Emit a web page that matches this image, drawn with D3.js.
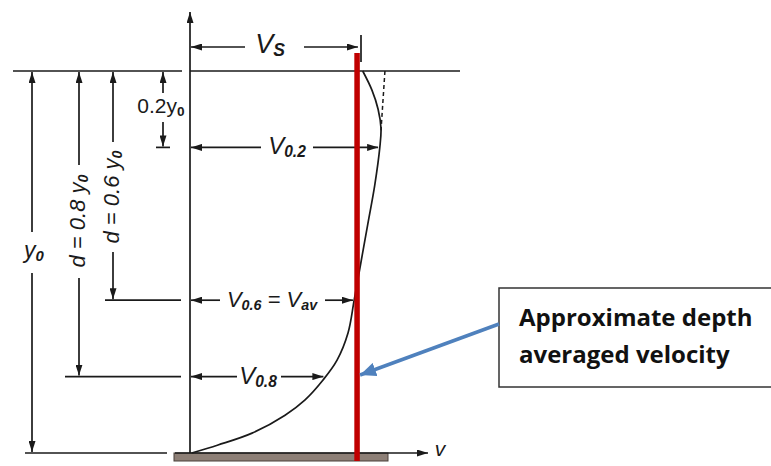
<!DOCTYPE html>
<html>
<head>
<meta charset="utf-8">
<script src="https://cdn.jsdelivr.net/npm/d3@7"></script>
<style>
  body { margin: 0; background: #fff; }
  svg { display: block; }
</style>
</head>
<body>
<svg id="chart" width="771" height="466" viewBox="0 0 771 466"></svg>
<script>
// velocity profile, depth as fraction of y0 (0 = surface), velocity as fraction of Vs
const depth = [0, 0.05, 0.1, 0.15, 0.2, 0.3, 0.4, 0.5, 0.6, 0.686, 0.757, 0.809, 0.861, 0.901, 0.948, 0.979, 1.0];
const vel   = [1.01, 1.064, 1.1, 1.117, 1.11, 1.08, 1.04, 1.0, 0.96, 0.924, 0.86, 0.778, 0.673, 0.556, 0.363, 0.164, 0.01];
const dashDepth = [0, 0.155];
const dashVel = [1.14, 1.117];
const levels = [0.2, 0.6, 0.8];
const levelVel = [1.1, 0.953, 0.78];
const vAvgApprox = 0.977;
const noteLines = ["Approximate depth", "averaged velocity"];

const svg = d3.select("#chart");
const x = d3.scaleLinear().domain([0, 1]).range([190, 361]);
const y = d3.scaleLinear().domain([0, 1]).range([71, 453]);
const ink = "#1a1a1a";
const font = "Liberation Sans, Arial, sans-serif";

// arrowhead markers
const defs = svg.append("defs");
function marker(id, color, w, h) {
    defs.append("marker").attr("id", id)
        .attr("viewBox", `0 0 ${w} ${h}`).attr("refX", w).attr("refY", h / 2)
        .attr("markerWidth", w).attr("markerHeight", h)
        .attr("markerUnits", "userSpaceOnUse").attr("orient", "auto-start-reverse")
        .append("path").attr("d", `M0,0L${w},${h / 2}L0,${h}Z`).attr("fill", color);
}
marker("ah", ink, 11, 7);
marker("blue", "#4f81bd", 16, 14);

function seg(x1, y1, x2, y2, start, end) {
    const l = svg.append("line").attr("x1", x1).attr("y1", y1).attr("x2", x2).attr("y2", y2)
        .attr("stroke", ink).attr("stroke-width", 1.7);
    if (start) l.attr("marker-start", "url(#ah)");
    if (end) l.attr("marker-end", "url(#ah)");
    return l;
}
function label(tx, ty, main, sub, size, extra) {
    const t = svg.append("text").attr("x", tx).attr("y", ty)
        .attr("font-family", font).attr("font-style", "italic")
        .attr("font-size", size).attr("fill", ink).attr("text-anchor", "middle")
        .attr("dominant-baseline", "middle");
    t.append("tspan").text(main);
    if (sub) t.append("tspan").attr("dy", 5).attr("font-size", size * 0.65).attr("font-weight", "bold").text(sub);
    if (extra) { t.append("tspan").attr("dy", -5).text(extra[0]);
                 t.append("tspan").attr("dy", 5).attr("font-size", size * 0.65).attr("font-weight", "bold").text(extra[1]); }
    return t;
}

// bed
svg.append("rect").attr("x", 174).attr("y", 453).attr("width", 214).attr("height", 8)
    .attr("fill", "#8d7f76").attr("stroke", "#4a403a").attr("stroke-width", 1);

// axes
seg(x(0), y(1), x(0), 12, false, true);
seg(x(0) - 15, y(1), 428, y(1), false, true);
svg.append("text").attr("x", 440).attr("y", y(1) - 3).attr("font-family", font)
    .attr("font-style", "italic").attr("font-size", 21).attr("fill", ink)
    .attr("text-anchor", "middle").attr("dominant-baseline", "middle").text("v");

// water surface
seg(13, y(0), 182, y(0));
seg(x(0), y(0), 460, y(0));
seg(25, y(1), 167, y(1));

// velocity profile
svg.append("path")
    .attr("d", d3.line().x(i => x(vel[i])).y(i => y(depth[i])).curve(d3.curveCatmullRom.alpha(0.5))(d3.range(depth.length)))
    .attr("fill", "none").attr("stroke", ink).attr("stroke-width", 1.7);
svg.append("path")
    .attr("d", d3.line().x(i => x(dashVel[i])).y(i => y(dashDepth[i]))(d3.range(dashDepth.length)))
    .attr("fill", "none").attr("stroke", ink).attr("stroke-width", 1.5).attr("stroke-dasharray", "4,3");

// Vs dimension
seg(x(0) + 1, 47, 245, 47, true);
seg(304, 47, x(0.982), 47, false, true);
seg(x(1), 35, x(1), 62);
label(270, 46, "V", "S", 27);

// level arrows
const levelText = [[["V", "0.2"], 287, 24], [["V", "0.6", [" = V", "av"]], 272, 22], [["V", "0.8"], 258, 24]];
const gapL = [261, 220, 237], gapR = [313, 325, 281];
levels.forEach((lv, i) => {
    const yy = y(lv);
    seg(x(0) + 1, yy, gapL[i], yy, true);
    seg(gapR[i], yy, x(levelVel[i]), yy, false, true);
    const [parts, cx, fs] = levelText[i];
    label(cx, yy + 1, parts[0], parts[1], fs, parts[2]);
});

// left depth dimensions
seg(105, y(0.6), 181, y(0.6));
seg(65, y(0.8), 181, y(0.8));
// 0.2 y0
seg(163, 93, 163, y(0) + 1, false, true);
seg(163, 122, 163, y(0.2) - 1, false, true);
seg(156, y(0.2), 170, y(0.2));
label(161, 107, "0.2y", "0", 21).attr("font-style", "normal");
// d = 0.6 y0
seg(113, 142, 113, y(0) + 1, false, true);
seg(113, 252, 113, y(0.6) - 1, false, true);
label(0, 0, "d = 0.6 y", "0", 22).attr("transform", `translate(113,197) rotate(-90)`);
// d = 0.8 y0
seg(79, 165, 79, y(0) + 1, false, true);
seg(79, 278, 79, y(0.8) - 1, false, true);
label(0, 0, "d = 0.8 y", "0", 22).attr("transform", `translate(79,221) rotate(-90)`);
// y0
seg(32, 232, 32, y(0) + 1, false, true);
seg(32, 273, 32, y(1) - 1, false, true);
label(34, 252, "y", "0", 23);

// approximate depth averaged velocity
svg.append("line").attr("x1", x(vAvgApprox)).attr("x2", x(vAvgApprox)).attr("y1", 53).attr("y2", 461)
    .attr("stroke", "#c00000").attr("stroke-width", 5.5);

svg.append("rect").attr("x", 499).attr("y", 288).attr("width", 290).attr("height", 99)
    .attr("fill", "#fff").attr("stroke", "#333").attr("stroke-width", 1.5);
svg.append("line").attr("x1", 499).attr("y1", 324).attr("x2", x(vAvgApprox) + 3).attr("y2", 375)
    .attr("stroke", "#4f81bd").attr("stroke-width", 3.5).attr("marker-end", "url(#blue)");
svg.selectAll("text.note").data(noteLines).enter().append("text").attr("class", "note")
    .attr("x", 519).attr("y", (d, i) => 326 + i * 37)
    .attr("font-family", "Open Sans, sans-serif").attr("font-weight", "bold")
    .attr("font-size", 24).attr("fill", "#111").text(d => d);
</script>
</body>
</html>
